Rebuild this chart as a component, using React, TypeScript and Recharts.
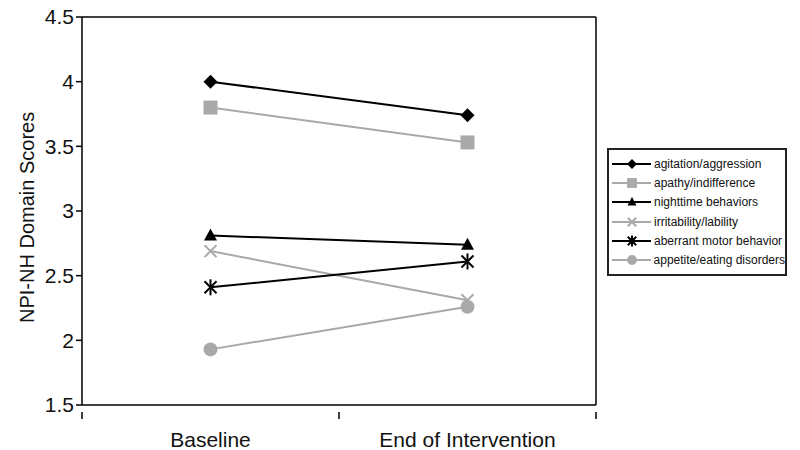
import React from "react";
import {
  Line,
  LineChart,
  ReferenceLine,
  XAxis,
  YAxis,
} from "recharts";

// categories sit at 0.5 and 1.5 on a 0..2 numeric axis so the ticks fall between them
const categories = ["Baseline", "End of Intervention"];
const categoryPos = [0.5, 1.5];
const yTicks = [1.5, 2, 2.5, 3, 3.5, 4, 4.5];

const agitation = [4.0, 3.74];
const apathy = [3.8, 3.53];
const nighttime = [2.81, 2.74];
const irritability = [2.69, 2.31];
const aberrant = [2.41, 2.61];
const appetite = [1.93, 2.26];

const BLACK = "#000";
const GRAY = "#a9a9a9";

const seriesDefs = [
  { key: "agitation", name: "agitation/aggression", values: agitation, color: BLACK, shape: "diamond" },
  { key: "apathy", name: "apathy/indifference", values: apathy, color: GRAY, shape: "square" },
  { key: "nighttime", name: "nighttime behaviors", values: nighttime, color: BLACK, shape: "triangle" },
  { key: "irritability", name: "irritability/lability", values: irritability, color: GRAY, shape: "cross" },
  { key: "aberrant", name: "aberrant motor behavior", values: aberrant, color: BLACK, shape: "star" },
  { key: "appetite", name: "appetite/eating disorders", values: appetite, color: GRAY, shape: "circle" },
];

const rows = categoryPos.map((x, i) => {
  const row: Record<string, number> = { x };
  seriesDefs.forEach((s) => (row[s.key] = s.values[i]));
  return row;
});

const font = "'Liberation Sans', Arial, sans-serif";

function Marker({ cx, cy, shape, color, scale = 1 }: { cx: number; cy: number; shape: string; color: string; scale?: number }) {
  const s = scale;
  switch (shape) {
    case "diamond":
      return <polygon points={`${cx},${cy - 7 * s} ${cx + 7 * s},${cy} ${cx},${cy + 7 * s} ${cx - 7 * s},${cy}`} fill={color} />;
    case "square":
      return <rect x={cx - 7 * s} y={cy - 7 * s} width={14 * s} height={14 * s} fill={color} />;
    case "triangle":
      return <polygon points={`${cx},${cy - 7 * s} ${cx + 6.5 * s},${cy + 5 * s} ${cx - 6.5 * s},${cy + 5 * s}`} fill={color} />;
    case "cross":
      return (
        <g stroke={color} strokeWidth={2}>
          <line x1={cx - 6 * s} y1={cy - 6 * s} x2={cx + 6 * s} y2={cy + 6 * s} />
          <line x1={cx - 6 * s} y1={cy + 6 * s} x2={cx + 6 * s} y2={cy - 6 * s} />
        </g>
      );
    case "star":
      return (
        <g stroke={color} strokeWidth={2}>
          <line x1={cx - 6 * s} y1={cy - 6 * s} x2={cx + 6 * s} y2={cy + 6 * s} />
          <line x1={cx - 6 * s} y1={cy + 6 * s} x2={cx + 6 * s} y2={cy - 6 * s} />
          <line x1={cx} y1={cy - 8 * s} x2={cx} y2={cy + 8 * s} />
        </g>
      );
    default:
      return <circle cx={cx} cy={cy} r={7 * s} fill={color} />;
  }
}

function XTick(props: any) {
  const { x, y, payload } = props;
  const v = payload.value;
  if (Number.isInteger(v)) {
    return <line x1={x} y1={y - 1} x2={x} y2={y + 6} stroke={BLACK} strokeWidth={1.5} />;
  }
  const idx = categoryPos.indexOf(v);
  return (
    <text x={x} y={y + 34} textAnchor="middle" fontSize={21} fill="#111" fontFamily={font}>
      {categories[idx]}
    </text>
  );
}

function LegendBox() {
  return (
    <div
      style={{
        position: "absolute",
        left: 607,
        top: 148,
        border: "2px solid #222",
        width: 180,
        padding: "4px 0 4px 0",
        background: "#fff",
        fontFamily: font,
        fontSize: 12,
        color: "#111",
        boxSizing: "border-box",
      }}
    >
      {seriesDefs.map((s) => (
        <div key={s.key} style={{ display: "flex", alignItems: "center", height: 19.3 }}>
          <svg width={44} height={18} style={{ display: "block" }}>
            <line x1={3} y1={9} x2={42} y2={9} stroke={s.color} strokeWidth={2} />
            <Marker cx={23} cy={9} shape={s.shape} color={s.color} scale={0.7} />
          </svg>
          <span style={{ marginLeft: 1, whiteSpace: "nowrap" }}>{s.name}</span>
        </div>
      ))}
    </div>
  );
}

export default function App() {
  return (
    <div style={{ position: "absolute", left: 0, top: 0, width: 800, height: 450, background: "#fff" }}>
      <LineChart width={800} height={450} data={rows} margin={{ top: 17, right: 204, bottom: 5, left: 20 }}>
        <XAxis
          dataKey="x"
          type="number"
          domain={[0, 2]}
          ticks={[0, 0.5, 1, 1.5, 2]}
          tickLine={false}
          tick={<XTick />}
          axisLine={{ stroke: BLACK, strokeWidth: 1.5 }}
          height={40}
        />
        <YAxis
          domain={[1.5, 4.5]}
          ticks={yTicks}
          width={62}
          tickSize={6}
          tickLine={{ stroke: BLACK, strokeWidth: 1.5 }}
          axisLine={{ stroke: BLACK, strokeWidth: 1.5 }}
          tick={{ fontSize: 21, fill: "#111", fontFamily: font }}
          label={{
            value: "NPI-NH Domain Scores",
            angle: -90,
            position: "insideLeft",
            dx: 2,
            dy: 112,
            style: { fontSize: 20, fill: "#111", fontFamily: font },
          }}
        />
        <ReferenceLine y={4.5} stroke={BLACK} strokeWidth={1.5} />
        <ReferenceLine x={2} stroke={BLACK} strokeWidth={1.5} />
        {seriesDefs.map((s) => (
          <Line
            key={s.key}
            dataKey={s.key}
            name={s.name}
            stroke={s.color}
            strokeWidth={2}
            isAnimationActive={false}
            dot={(p: any) => <Marker key={`${s.key}-${p.index}`} cx={p.cx} cy={p.cy} shape={s.shape} color={s.color} />}
            activeDot={false}
          />
        ))}
      </LineChart>
      <LegendBox />
    </div>
  );
}
